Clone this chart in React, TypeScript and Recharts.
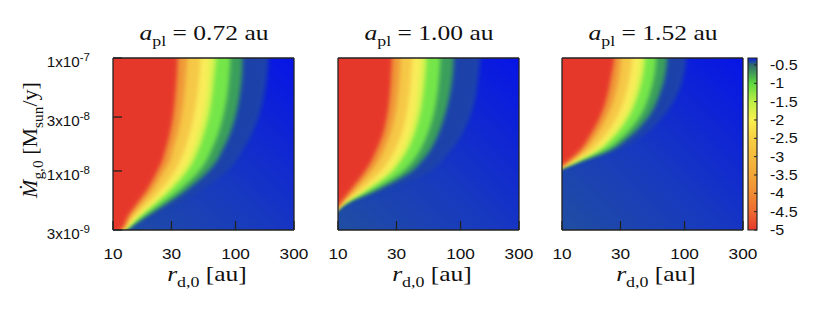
import React from "react";
import { AreaChart, Area, XAxis, YAxis, ReferenceArea } from "recharts";

// axis ticks
const rTicks = [10, 30, 100, 300];
const rInnerTicks = [30, 100];
const mdotTicks = [3e-9, 1e-8, 3e-8, 1e-7];
const mdotInnerTicks = [1e-8, 3e-8];
const mdotTickBase = ["3x10", "1x10", "3x10", "1x10"];
const mdotTickExp = ["-9", "-8", "-8", "-7"];

const planetOrbits = ["0.72", "1.00", "1.52"];

const mdotRows = [1.3e-7, 1e-7, 7e-8, 5e-8, 3e-8, 2e-8, 1.5e-8, 1.2e-8, 1e-8, 7e-9, 5e-9, 4e-9, 3e-9, 2.5e-9];

// contour levels, drawn from the outermost (blue side) to the innermost (red side)
const contourLevels = [-0.3, -0.5, -1, -1.5, -2, -2.5, -3.5, -4.5];
const bandColors = ["#1c42aa", "#3a9f5c", "#74e648", "#d6f450", "#f9ec5a", "#f6c847", "#f09a38", "#e6392a"];

// r_d,0 [au] of each contour level at each accretion rate
const contoursA072 = [
  [186, 186, 181, 173, 154, 132, 113, 99.6, 85.2, 54.9, 33.3, 22.2, 13.0, 9],
  [114, 114, 113, 109, 99.6, 87.9, 77.5, 69.3, 60.3, 41.4, 26.4, 18.9, 12.5, 9],
  [90.7, 90.7, 89.0, 86.3, 79.0, 70.6, 63.0, 57.0, 50.6, 36.1, 23.9, 17.8, 12.2, 9],
  [69.3, 69.3, 67.1, 65.0, 60.3, 54.3, 49.4, 45.0, 40.4, 30.3, 21.3, 16.5, 12.1, 9],
  [61.5, 61.5, 60.3, 58.9, 54.3, 49.1, 44.7, 40.9, 37.0, 28.1, 20.2, 15.9, 12.0, 9],
  [51.6, 51.6, 50.6, 49.1, 45.5, 41.4, 38.0, 35.0, 31.9, 25.1, 18.6, 15.0, 11.8, 9],
  [40.2, 40.2, 39.4, 38.4, 36.1, 33.3, 30.7, 29.0, 26.2, 21.5, 16.6, 13.9, 11.7, 9],
  [33.7, 33.7, 33.3, 32.5, 30.9, 28.8, 26.7, 25.1, 23.1, 19.3, 15.4, 13.3, 11.5, 9],
];

const contoursA100 = [
  [145, 145, 140, 135, 119, 99.6, 82.5, 68.4, 56.7, 27.6, 11.3, 9, 9, 9],
  [87.9, 87.9, 86.3, 82.5, 73.7, 64.3, 56.0, 47.6, 40.2, 22.2, 10.9, 9, 9, 9],
  [68.4, 68.4, 67.1, 65.0, 59.6, 52.6, 46.4, 40.2, 34.3, 20.2, 10.8, 9, 9, 9],
  [52.6, 52.6, 51.6, 50.0, 46.1, 41.2, 36.6, 32.1, 28.1, 17.9, 10.6, 9, 9, 9],
  [47.6, 47.6, 46.7, 45.2, 42.0, 37.7, 33.5, 29.5, 25.9, 17.0, 10.6, 9, 9, 9],
  [40.2, 40.2, 39.4, 38.4, 35.7, 32.3, 28.8, 25.6, 22.6, 15.7, 10.4, 9, 9, 9],
  [32.3, 32.3, 31.9, 31.1, 29.0, 26.2, 23.6, 21.2, 18.8, 14.0, 10.3, 9, 9, 9],
  [27.6, 27.6, 27.2, 26.7, 25.1, 22.9, 20.5, 18.6, 16.7, 13.0, 10.2, 9, 9, 9],
];

const contoursA152 = [
  [103, 103, 98.4, 89.0, 66.3, 44.1, 27.6, 14.3, 9, 9, 9, 9, 9, 9],
  [71.9, 71.9, 69.3, 63.5, 50.6, 35.4, 23.9, 13.4, 9, 9, 9, 9, 9, 9],
  [58.5, 58.5, 56.7, 52.6, 43.0, 31.3, 21.9, 13.0, 9, 9, 9, 9, 9, 9],
  [47.6, 47.6, 45.8, 42.5, 35.0, 26.4, 19.3, 12.5, 9, 9, 9, 9, 9, 9],
  [43.6, 43.6, 42.0, 38.9, 32.3, 24.6, 18.4, 12.2, 9, 9, 9, 9, 9, 9],
  [37.3, 37.3, 35.9, 33.5, 28.1, 21.9, 16.8, 11.8, 9, 9, 9, 9, 9, 9],
  [30.3, 30.3, 29.4, 27.6, 23.3, 18.6, 14.9, 11.3, 9, 9, 9, 9, 9, 9],
  [26.7, 26.7, 25.4, 23.9, 20.5, 16.7, 13.9, 11.0, 9, 9, 9, 9, 9, 9],
];

const panelContours = [contoursA072, contoursA100, contoursA152];

// colour bar
const cbTicks = [-0.5, -1, -1.5, -2, -2.5, -3, -3.5, -4, -4.5, -5];
const cbStopValues = [-5, -4.5, -4, -3.5, -3, -2.5, -2, -1.5, -1, -0.5, -0.31];
const cbStopColors = ["#e8392b", "#ee6a2f", "#f08c33", "#f2a638", "#f4bb3d", "#f6d043", "#f9f04e", "#bdef45", "#5cd93f", "#2f6a6c", "#0b1de0"];

const sans = '"Liberation Sans", Arial, sans-serif';
const serif = '"Liberation Serif", "Times New Roman", serif';
const ink = "#111";
const frame = { stroke: "#222", strokeWidth: 1.3 };
const PLOT_W = 181;
const PLOT_H = 172;
const PLOT_TOP = 58;
const AXIS_W = 100;
const panelLefts = [113, 338, 562];

const XTick = ({ x, y, payload }: any) => (
  <text transform={`translate(${x},${y}) scale(1.15,1)`} textAnchor="middle" dy="0.71em" fontSize={15} fontFamily={sans} fill={ink}>
    {payload.value}
  </text>
);

const MdotTick = ({ x, y, index }: any) => (
  <text transform={`translate(${x},${y + 9}) scale(1.05,1)`} textAnchor="end" fontSize={14.5} fontFamily={sans} fill={ink}>
    {mdotTickBase[index]}
    <tspan fontSize={11} dy={-6}>{mdotTickExp[index]}</tspan>
  </text>
);

const CbTick = ({ x, y, payload }: any) => (
  <text transform={`translate(${x},${y}) scale(1.15,1)`} textAnchor="start" dy="0.355em" fontSize={14} fontFamily={sans} fill={ink}>
    {payload.value}
  </text>
);

const sub = { fontSize: "0.7em", verticalAlign: "-0.38em", lineHeight: 0 } as const;

function Panel({ idx }: { idx: number }) {
  const left = panelLefts[idx];
  const contours = panelContours[idx];
  const rows = mdotRows.map((m, i) => {
    const row: any = { mdot: m };
    contours.forEach((c, k) => (row[`c${k}`] = c[i]));
    return row;
  });
  const blurId = `soft${idx}`;
  return (
    <>
      <div
        style={{
          position: "absolute", left, top: PLOT_TOP, width: PLOT_W, height: PLOT_H,
          background: "linear-gradient(to top right, #204ea2 0%, #1738c0 45%, #0714e6 100%)",
        }}
      />
      <div style={{ position: "absolute", left: left - AXIS_W, top: PLOT_TOP - 10 }}>
        <AreaChart width={AXIS_W + PLOT_W + 1 + 25} height={223} layout="vertical" data={rows}
          margin={{ top: 9, right: 25, left: 0, bottom: 0 }}>
          <defs>
            <filter id={blurId} x="-20%" y="-20%" width="140%" height="140%">
              <feGaussianBlur stdDeviation="2.3" />
            </filter>
          </defs>
          <XAxis type="number" scale="log" domain={[10, 300]} allowDataOverflow ticks={rTicks} interval={0}
            tickSize={-9} tickMargin={27} height={41} tick={<XTick />} axisLine={frame} tickLine={frame} />
          <XAxis xAxisId="top" orientation="top" type="number" scale="log" domain={[10, 300]} allowDataOverflow
            ticks={rInnerTicks} interval={0} tickSize={-9} height={1} tick={false} axisLine={frame} tickLine={frame} />
          <YAxis dataKey="mdot" type="number" scale="log" reversed domain={[3e-9, 1e-7]} allowDataOverflow ticks={mdotTicks}
            interval={0} tickSize={-9} tickMargin={32} width={AXIS_W} tick={idx === 0 ? <MdotTick /> : false}
            axisLine={frame} tickLine={frame} />
          <YAxis yAxisId="right" orientation="right" type="number" scale="log" reversed domain={[3e-9, 1e-7]} allowDataOverflow
            ticks={mdotInnerTicks} interval={0} tickSize={-9} width={1} tick={false} axisLine={frame} tickLine={frame} />
          {contourLevels.map((lv, k) => (
            <Area key={lv} dataKey={`c${k}`} type="monotone" baseValue={5} stroke="none" fill={bandColors[k]} fillOpacity={1}
              filter={`url(#${blurId})`} dot={false} activeDot={false} isAnimationActive={false} />
          ))}
        </AreaChart>
      </div>
      <div style={{ position: "absolute", left: left + PLOT_W / 2, top: 21.6, transform: "translateX(-50%) scaleX(1.16)",
        fontFamily: serif, fontSize: 22, lineHeight: "22px", whiteSpace: "nowrap", color: ink }}>
        <i>a</i><span style={sub}>pl</span> = {planetOrbits[idx]} au
      </div>
      <div style={{ position: "absolute", left: left + PLOT_W / 2 + 3, top: 262.6, transform: "translateX(-50%) scaleX(1.16)",
        fontFamily: serif, fontSize: 22, lineHeight: "22px", whiteSpace: "nowrap", color: ink }}>
        <i>r</i><span style={sub}>d,0</span> [au]
      </div>
    </>
  );
}

function ColorBar() {
  const cbRows = cbTicks.map((v) => ({ v }));
  const span = cbStopValues[cbStopValues.length - 1] - cbStopValues[0];
  return (
    <div style={{ position: "absolute", left: 740, top: PLOT_TOP - 10 }}>
      <AreaChart width={77} height={195} data={cbRows} margin={{ top: 10, right: 0, left: 0, bottom: 13 }}>
        <defs>
          <linearGradient id="cbGrad" x1="0" y1="1" x2="0" y2="0">
            {cbStopValues.map((v, i) => (
              <stop key={v} offset={(v - cbStopValues[0]) / span} stopColor={cbStopColors[i]} />
            ))}
          </linearGradient>
        </defs>
        <XAxis type="number" domain={[0, 1]} hide />
        <YAxis orientation="right" type="number" domain={[-5, -0.31]} allowDataOverflow ticks={cbTicks} interval={0}
          tickSize={-3} tickMargin={16} width={60} tick={<CbTick />} axisLine={false} tickLine={{ stroke: "#222" }} />
        <YAxis yAxisId="l" orientation="left" type="number" domain={[-5, -0.31]} allowDataOverflow ticks={cbTicks} interval={0}
          tickSize={-3} width={8} tick={false} axisLine={false} tickLine={{ stroke: "#222" }} />
        <ReferenceArea y1={-5} y2={-0.31} fill="url(#cbGrad)" fillOpacity={1} stroke="#222" strokeWidth={1.2} />
      </AreaChart>
    </div>
  );
}

export default function App() {
  return (
    <div style={{ position: "absolute", left: 0, top: 0, width: 817, height: 310, background: "#fff", overflow: "hidden" }}>
      {[0, 1, 2].map((i) => (
        <Panel key={i} idx={i} />
      ))}
      <ColorBar />
      <div style={{ position: "absolute", left: 29.6, top: 140, transform: "translate(-50%,-50%) rotate(-90deg)",
        fontFamily: serif, fontSize: 22, lineHeight: "22px", whiteSpace: "nowrap", color: ink }}>
        <i>Ṁ</i><span style={sub}>g,0</span> [M<span style={sub}>sun</span>/y]
      </div>
    </div>
  );
}
